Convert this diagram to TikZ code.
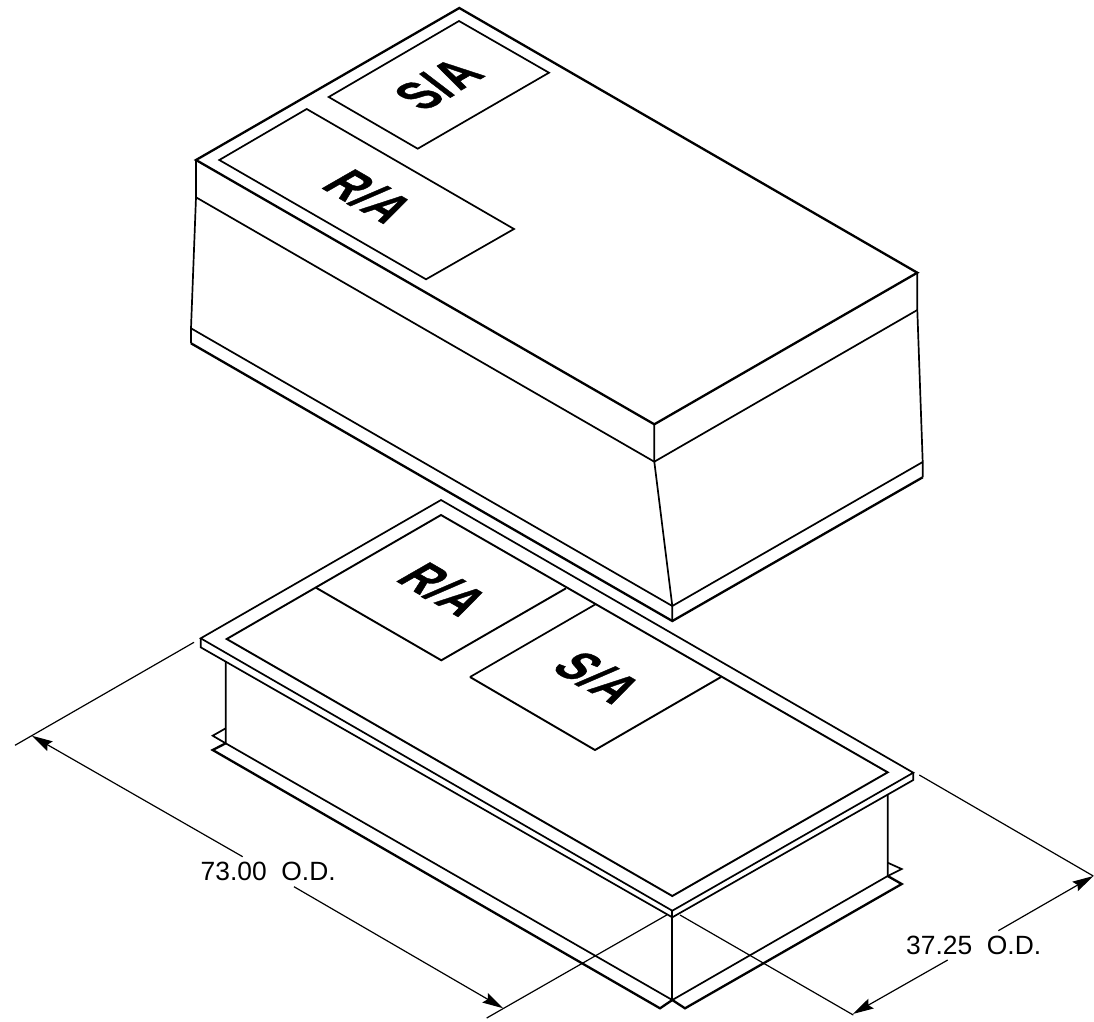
\documentclass[tikz,border=0pt]{standalone}
\usepackage{fontspec}
\setmainfont{Liberation Sans}
\newfontfamily\platefont[LetterSpace=3,BoldFeatures={FakeBold=1,LetterSpace=3}]{Liberation Sans}
\usetikzlibrary{arrows.meta}
\tikzset{
  heavy/.style={line width=2.3pt,line join=miter},
  medium/.style={line width=1.7pt,line join=miter},
  panel/.style={line width=1.9pt,line join=miter},
  dimline/.style={line width=1.2pt},
  dimarrow/.style={line width=1.2pt,-{Stealth[length=21pt,width=11pt,inset=3pt]}},
  dimtext/.style={font=\fontsize{26.4}{27}\selectfont,inner sep=0pt,anchor=base west},
  platelabel/.style={font=\fontsize{42}{42}\platefont\bfseries\selectfont,inner sep=0pt,transform shape}
}
\begin{document}
\begin{tikzpicture}[x=1pt,y=-1pt]
\useasboundingbox (0,0) rectangle (1094,1021);
% upper unit
\coordinate (uT) at (459.3,8);
\coordinate (uL) at (196,160);
\coordinate (uF) at (654.3,424.3);
\coordinate (uR) at (917.3,272.7);
\coordinate (mL) at (196,197.3);
\coordinate (mF) at (654.3,461.7);
\coordinate (mR) at (917.3,310);
\coordinate (lL) at (191,328.3);
\coordinate (lF) at (672.3,606);
\coordinate (lR) at (922.7,462);
\coordinate (bL) at (191,343.3);
\coordinate (bF) at (672.3,621);
\coordinate (bR) at (922.7,477.3);
\draw[heavy] (uL)--(uT)--(uR)--(uF)--cycle;
\draw[medium] (uL)--(mL)--(lL)--(bL);
\draw[medium] (uR)--(mR)--(lR)--(bR);
\draw[medium] (uF)--(mF)--(lF)--(bF);
\draw[medium] (mL)--(mF)--(mR);
\draw[medium] (lL)--(lF)--(lR);
\draw[heavy] (bL)--(bF)--(bR);
\draw[medium] (459,21)--(549,72.7)--(417.7,148.7)--(328.7,97)--cycle;
\draw[medium] (306.7,109)--(514,229)--(426,279.3)--(219.3,160)--cycle;
\node[platelabel,cm={.866,.5,-1.15,.66,(438,84)}] (usa) at (0,0) {S/A};
\node[platelabel,cm={.866,-.5,1.15,.66,(369,196)}] (ura) at (0,0) {R/A};
% lower unit
\coordinate (fT) at (441,500);
\coordinate (fL) at (200.7,638.3);
\coordinate (fF) at (672.3,910.7);
\coordinate (fR) at (913.3,772.7);
\coordinate (gL) at (200.7,647.3);
\coordinate (gF) at (672.3,917.3);
\coordinate (gR) at (913.3,780);
\coordinate (iT) at (441,515);
\coordinate (iL) at (226.7,639);
\coordinate (iF) at (672.3,896);
\coordinate (iR) at (887.7,772.3);
\draw[medium] (fL)--(fT)--(fR)--(fF)--cycle;
\draw[medium] (fL)--(gL)--(gF)--(gR)--(fR);
\draw[medium] (fF)--(gF);
\draw[panel] (iT)--(iL)--(iF)--(iR)--cycle;
\draw[panel] (316,587.7)--(441.3,660.3)--(566,588.3);
\draw[medium] (596,604)--(470,677);
\draw[panel] (470,677)--(595,750)--(721,677);
\node[platelabel,cm={.866,-.5,1.15,.66,(443.7,589)}] (lra) at (0,0) {R/A};
\node[platelabel,cm={.866,-.5,1.15,.66,(598,677)}] (lsa) at (0,0) {S/A};
% body
\coordinate (sL) at (225.7,661.7);
\coordinate (sLb) at (225.7,743.3);
\coordinate (sF) at (672.3,1000);
\coordinate (sR) at (887.7,795);
\coordinate (sRb) at (887.7,876);
\draw[medium] (sL)--(sLb)--(sF)--(sRb)--(sR);
\draw[medium] (gF)--(sF);
\draw[medium] (225.7,728.3)--(212.7,735.7)--(sLb);
\draw[heavy] (sLb)--(212.7,750)--(660,1008.3)--(sF)--(685,1008.3)--(901.7,884)--(sRb);
\draw[medium] (887.7,862.7)--(901.7,869)--(sRb);
% dimensions
\coordinate (e1a) at (194,642.3);
\coordinate (e1b) at (15,745.3);
\coordinate (e2a) at (666.7,915);
\coordinate (e2b) at (486.7,1018);
\coordinate (e3a) at (919.3,775);
\coordinate (e3b) at (1093.3,876);
\coordinate (e4a) at (680,915);
\coordinate (e4b) at (853.3,1015);
\draw[dimline] (e1a)--(e1b);
\draw[dimline] (e2a)--(e2b);
\draw[dimline] (e3a)--(e3b);
\draw[dimline] (e4a)--(e4b);
\coordinate (d1s) at (242.7,856.7);
\coordinate (d1t) at (31.7,735.7);
\coordinate (d2s) at (294,886.7);
\coordinate (d2t) at (503.3,1008.3);
\coordinate (d3s) at (998.3,930.7);
\coordinate (d3t) at (1093.3,876);
\coordinate (d4s) at (947.7,960);
\coordinate (d4t) at (852.7,1014);
\draw[dimarrow] (d1s)--(d1t);
\draw[dimarrow] (d2s)--(d2t);
\draw[dimarrow] (d3s)--(d3t);
\draw[dimarrow] (d4s)--(d4t);
\node[dimtext] (t73) at (200.5,880.7) {73.00\ \ O.D.};
\node[dimtext] (t37) at (906,954) {37.25\ \ O.D.};
\end{tikzpicture}
\end{document}
